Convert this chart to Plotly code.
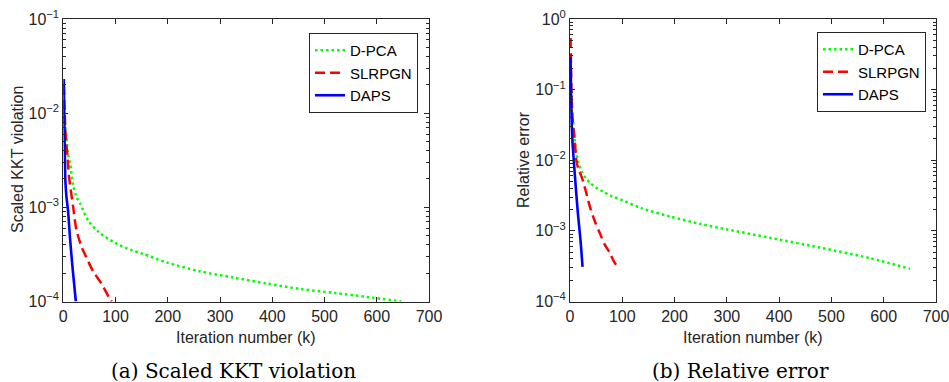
import plotly.graph_objects as go

# ---------------- data ----------------
# (a) Scaled KKT violation
kkt_dpca_k = [1, 3, 6, 9, 13, 19, 25, 32, 48, 67, 99, 131, 153, 198, 260, 325, 390, 453, 520, 580, 647]
kkt_dpca_v = [0.012, 0.008, 0.0056, 0.0037, 0.0029, 0.0017, 0.0013, 0.0011, 0.00072, 0.00055, 0.00042,
              0.00035, 0.00032, 0.00026, 0.00021, 0.00018, 0.000155, 0.000136, 0.000123, 0.000112, 0.0001]
kkt_slrpgn_k = [1, 3, 5, 8, 11, 19, 25, 35, 41, 57, 73, 89, 93]
kkt_slrpgn_v = [0.02, 0.009, 0.0052, 0.0035, 0.0021, 0.001, 0.00058, 0.00038, 0.00032, 0.00021, 0.000155, 0.000107, 0.0001]
kkt_daps_k = [1, 2, 3, 4, 6, 9, 13, 18, 24]
kkt_daps_v = [0.023, 0.008, 0.0035, 0.0019, 0.0013, 0.00093, 0.00046, 0.00022, 0.0001]

# (b) Relative error
rel_dpca_k = [1, 3, 6, 11, 16, 22, 30, 38, 50, 63, 80, 101, 136, 191, 250, 300, 382, 478, 574, 650]
rel_dpca_v = [0.12, 0.06, 0.035, 0.014, 0.0095, 0.0069, 0.0056, 0.0048, 0.0041, 0.0036, 0.0031, 0.0027,
              0.0021, 0.0016, 0.00125, 0.00105, 0.0008, 0.00058, 0.00041, 0.00029]
rel_slrpgn_k = [1, 2, 3, 5, 7, 9, 12, 16, 22, 30, 38, 47, 57, 66, 76, 84, 92]
rel_slrpgn_v = [0.54, 0.2, 0.08, 0.04, 0.026, 0.0195, 0.0102, 0.0075, 0.0059, 0.0037, 0.0022, 0.0014,
                0.00093, 0.00065, 0.00049, 0.00037, 0.0003]
rel_daps_k = [1, 2, 3, 4, 5, 9, 15, 20, 24]
rel_daps_v = [0.29, 0.1, 0.04, 0.024, 0.017, 0.0066, 0.0018, 0.00075, 0.00031]

series_names = ["D-PCA", "SLRPGN", "DAPS"]
x_ticks = [0, 100, 200, 300, 400, 500, 600, 700]
left_exponents = [-4, -3, -2, -1]
right_exponents = [-4, -3, -2, -1, 0]
x_title = "Iteration number (k)"
y_titles = ["Scaled KKT violation", "Relative error"]
captions = ["(a) Scaled KKT violation", "(b) Relative error"]

# ---------------- figure ----------------
W, H = 949, 382
colors = ["#00ff00", "#ff0000", "#0000ff"]
dashes = ["2.5px,3px", "10px,5px", "solid"]
widths = [2.5, 2.5, 2.6]
axis_color = "#262626"
font_sans = "Liberation Sans, Arial, sans-serif"

fig = go.Figure()

left_sets = [(kkt_dpca_k, kkt_dpca_v), (kkt_slrpgn_k, kkt_slrpgn_v), (kkt_daps_k, kkt_daps_v)]
right_sets = [(rel_dpca_k, rel_dpca_v), (rel_slrpgn_k, rel_slrpgn_v), (rel_daps_k, rel_daps_v)]

for i, (k, v) in enumerate(left_sets):
    fig.add_trace(go.Scatter(x=k, y=v, mode="lines", name=series_names[i],
                             line=dict(color=colors[i], dash=dashes[i], width=widths[i], shape="spline", smoothing=0.8),
                             xaxis="x", yaxis="y", legend="legend"))
for i, (k, v) in enumerate(right_sets):
    fig.add_trace(go.Scatter(x=k, y=v, mode="lines", name=series_names[i],
                             line=dict(color=colors[i], dash=dashes[i], width=widths[i], shape="spline", smoothing=0.8),
                             xaxis="x2", yaxis="y2", legend="legend2"))

def px_x(p):
    return p / W

def px_y(p):
    return 1 - p / H

ydom = [px_y(301.5), px_y(19)]

xaxis_common = dict(range=[0, 700], tickvals=x_ticks, ticks="inside", ticklen=5, tickwidth=1,
                    tickcolor=axis_color, showline=True, linecolor=axis_color, linewidth=1,
                    mirror="ticks", showgrid=False, zeroline=False, automargin=False,
                    ticklabeloverflow="allow",
                    tickfont=dict(family=font_sans, size=16, color=axis_color))

def yaxis_common(exps):
    return dict(type="log", range=[exps[0], exps[-1]],
                tickvals=[10.0 ** e for e in exps],
                ticktext=["10<sup>%s</sup>" % (("\u2212%d" % -e) if e < 0 else str(e)) for e in exps],
                ticks="inside", ticklen=5, tickwidth=1, tickcolor=axis_color,
                minor=dict(ticks="inside", ticklen=3, tickcolor=axis_color, dtick="D1", showgrid=False),
                showline=True, linecolor=axis_color, linewidth=1, mirror="ticks",
                showgrid=False, zeroline=False, automargin=False, ticklabeloverflow="allow",
                tickfont=dict(family=font_sans, size=16, color=axis_color))

legend_common = dict(xanchor="right", yanchor="top", bgcolor="white", bordercolor=axis_color,
                     borderwidth=1, font=dict(family=font_sans, size=15, color="black"),
                     tracegroupgap=0, itemwidth=30)

fig.update_layout(
    width=W, height=H, margin=dict(l=0, r=0, t=0, b=0, autoexpand=False),
    paper_bgcolor="white", plot_bgcolor="white",
    xaxis=dict(domain=[px_x(63.3), px_x(429)], anchor="y", **xaxis_common),
    yaxis=dict(domain=ydom, anchor="x", **yaxis_common(left_exponents)),
    xaxis2=dict(domain=[px_x(570), px_x(936)], anchor="y2", **xaxis_common),
    yaxis2=dict(domain=ydom, anchor="x2", **yaxis_common(right_exponents)),
    legend=dict(x=px_x(418), y=px_y(33), **legend_common),
    legend2=dict(x=px_x(926), y=px_y(32), **legend_common),
    showlegend=True,
)

annots = []
for cx in [246, 753]:
    annots.append(dict(x=px_x(cx), y=px_y(337), xref="paper", yref="paper", text=x_title,
                       showarrow=False, xanchor="center", yanchor="middle",
                       font=dict(family=font_sans, size=16, color=axis_color)))
annots.append(dict(x=px_x(17), y=px_y(160), xref="paper", yref="paper", text=y_titles[0],
                   showarrow=False, textangle=-90, xanchor="center", yanchor="middle",
                   font=dict(family=font_sans, size=16, color=axis_color)))
annots.append(dict(x=px_x(523), y=px_y(160), xref="paper", yref="paper", text=y_titles[1],
                   showarrow=False, textangle=-90, xanchor="center", yanchor="middle",
                   font=dict(family=font_sans, size=16, color=axis_color)))
for cx, cap in zip([233, 740], captions):
    annots.append(dict(x=px_x(cx), y=px_y(371), xref="paper", yref="paper", text=cap,
                       showarrow=False, xanchor="center", yanchor="middle",
                       font=dict(family="DejaVu Serif, serif", size=20, color="black")))
fig.update_layout(annotations=annots)

fig.write_html("out.html", config={"displayModeBar": False},
               post_script="document.body.style.margin='0';document.body.style.overflow='hidden';")
